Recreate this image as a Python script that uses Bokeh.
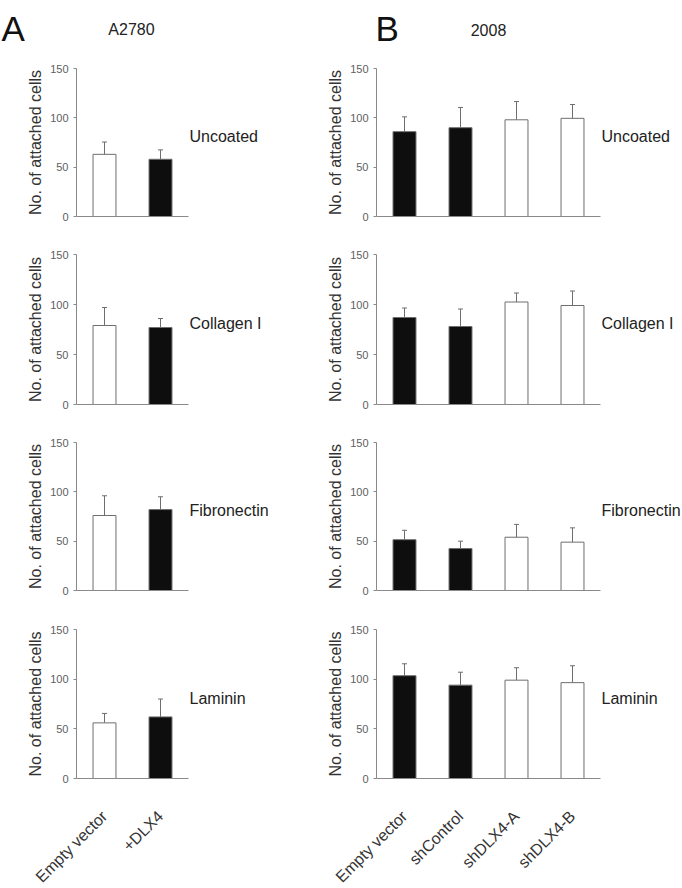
import math
from bokeh.plotting import figure
from bokeh.models import Whisker, ColumnDataSource, TeeHead, Range1d, FixedTicker
from bokeh.core.properties import value
from bokeh.layouts import row, column
from bokeh.embed import file_html
from bokeh.resources import INLINE

# ---------------- data ----------------
coatings = ["Uncoated", "Collagen I", "Fibronectin", "Laminin"]

a_letter = "A"
a_title = "A2780"
a_categories = ["Empty vector", "+DLX4"]
a_shaded = [False, True]
a_means = {
    "Uncoated": [63, 58],
    "Collagen I": [79, 77],
    "Fibronectin": [76, 82],
    "Laminin": [56, 62],
}
a_errors = {
    "Uncoated": [12.5, 9.5],
    "Collagen I": [18, 9],
    "Fibronectin": [20, 13],
    "Laminin": [9.5, 18],
}

b_letter = "B"
b_title = "2008"
b_categories = ["Empty vector", "shControl", "shDLX4-A", "shDLX4-B"]
b_shaded = [True, True, False, False]
b_means = {
    "Uncoated": [86, 90, 98, 99.5],
    "Collagen I": [87, 78, 102.5, 99],
    "Fibronectin": [51.5, 42.5, 54, 49],
    "Laminin": [103.5, 94, 99, 96.5],
}
b_errors = {
    "Uncoated": [15, 20.5, 18.5, 14],
    "Collagen I": [9.5, 17.5, 9, 14.5],
    "Fibronectin": [9.5, 7.5, 13, 14.5],
    "Laminin": [12, 13, 12.5, 17],
}

y_ticks = [0, 50, 100, 150]
y_max = 150
y_label = "No. of attached cells"
row_label_level = 81

# ---------------- style / layout ----------------
FONT = "Liberation Sans"
AXIS_COLOR = "#8a8a8a"
TICK_TEXT = "#5e5e5e"
TEXT = "#222222"
BAR_LINE = "#6e6e6e"
DARK = "#0e0e0e"

CAT_PX = 56                      # pixels per category
AXIS_PX = 76                     # distance of y-axis from figure's left edge
A_W, B_W = 300, 382              # figure widths
BANDS = [(0, 230), (230, 420), (420, 605), (605, 888)]   # vertical bands of rows
TOPS = [68, 254, 442, 629]       # pixel of y = 150
BASES = [216, 404, 590, 778]     # pixel of y = 0


def make_fig(cats, shaded, means, errs, coating, r, fig_w, letter, title,
             letter_dx, title_dx):
    band_top, band_bot = BANDS[r]
    top, base = TOPS[r], BASES[r]
    u = y_max / (base - top)
    h = band_bot - band_top
    y0 = -(band_bot - base) * u
    y1 = y_max + (top - band_top) * u
    x0 = 0.5 - AXIS_PX / CAT_PX
    x1 = 0.5 + (fig_w - AXIS_PX) / CAT_PX
    first = r == 0
    last = r == len(coatings) - 1

    p = figure(x_range=Range1d(x0, x1), y_range=Range1d(y0, y1),
               width=fig_w, height=h, min_border=0, title=None,
               output_backend="svg", toolbar_location=None,
               outline_line_color=None,
               background_fill_color="white", border_fill_color="white")
    p.xgrid.visible = False
    p.ygrid.visible = False

    xs = [i + 1 for i in range(len(cats))]
    src = ColumnDataSource(dict(
        x=xs, mean=means,
        upper=[m + e for m, e in zip(means, errs)],
        fill=[DARK if s else "white" for s in shaded],
    ))
    p.vbar(x="x", top="mean", width=0.41, source=src, fill_color="fill",
           line_color=BAR_LINE, line_width=1)
    p.add_layout(Whisker(source=src, base="x", upper="upper", lower="mean",
                         line_color=BAR_LINE, line_width=1,
                         upper_head=TeeHead(size=5, line_color=BAR_LINE, line_width=1),
                         lower_head=None))

    ya = p.yaxis[0]
    ya.fixed_location = 0.5
    ya.ticker = FixedTicker(ticks=y_ticks)
    ya.bounds = (0, y_max)
    ya.minor_tick_line_color = None
    ya.major_tick_in = 0
    ya.major_tick_out = 3
    ya.axis_line_color = AXIS_COLOR
    ya.major_tick_line_color = AXIS_COLOR
    ya.major_label_text_font = FONT
    ya.major_label_text_font_size = "11px"
    ya.major_label_text_color = TICK_TEXT
    ya.major_label_standoff = 5
    ya.axis_label = y_label
    ya.axis_label_text_font = FONT
    ya.axis_label_text_font_size = "16px"
    ya.axis_label_text_font_style = "normal"
    ya.axis_label_text_color = "#333333"
    ya.axis_label_standoff = 3

    xa = p.xaxis[0]
    xa.fixed_location = 0
    xa.bounds = (0.5, len(cats) + 0.5)
    xa.axis_line_color = AXIS_COLOR
    xa.major_tick_line_color = None
    xa.minor_tick_line_color = None
    if last:
        xa.ticker = FixedTicker(ticks=xs)
        xa.major_label_overrides = {x: c for x, c in zip(xs, cats)}
        xa.major_label_orientation = math.pi / 4
        xa.major_label_text_font = FONT
        xa.major_label_text_font_size = "16px"
        xa.major_label_text_color = "#333333"
        xa.major_label_standoff = 29
    else:
        xa.ticker = FixedTicker(ticks=[])

    # coating label to the right of each panel
    p.text(x=[len(cats) + 0.5], y=[row_label_level], text=[coating],
           x_offset=1, text_font=value(FONT), text_font_size=value("16px"),
           text_color=TEXT, text_align="left", text_baseline="middle")

    if first:
        p.text(x=[0.5], y=[y_max], text=[letter], x_offset=letter_dx, y_offset=-40,
               text_font=value(FONT), text_font_size=value("35px"),
               text_color="#111111", text_align="left", text_baseline="alphabetic")
        p.text(x=[(len(cats) + 1) / 2], y=[y_max], text=[title], x_offset=title_dx,
               y_offset=-39, text_font=value(FONT), text_font_size=value("16px"),
               text_color=TEXT, text_align="center", text_baseline="alphabetic")
    return p


rows = []
for r, c in enumerate(coatings):
    fa = make_fig(a_categories, a_shaded, a_means[c], a_errors[c], c, r, A_W,
                  a_letter, a_title, -75, -1)
    fb = make_fig(b_categories, b_shaded, b_means[c], b_errors[c], c, r, B_W,
                  b_letter, b_title, -1, 0)
    rows.append(row(fa, fb))

layout = column(*rows)
open("out.html", "w").write(file_html(layout, INLINE))
